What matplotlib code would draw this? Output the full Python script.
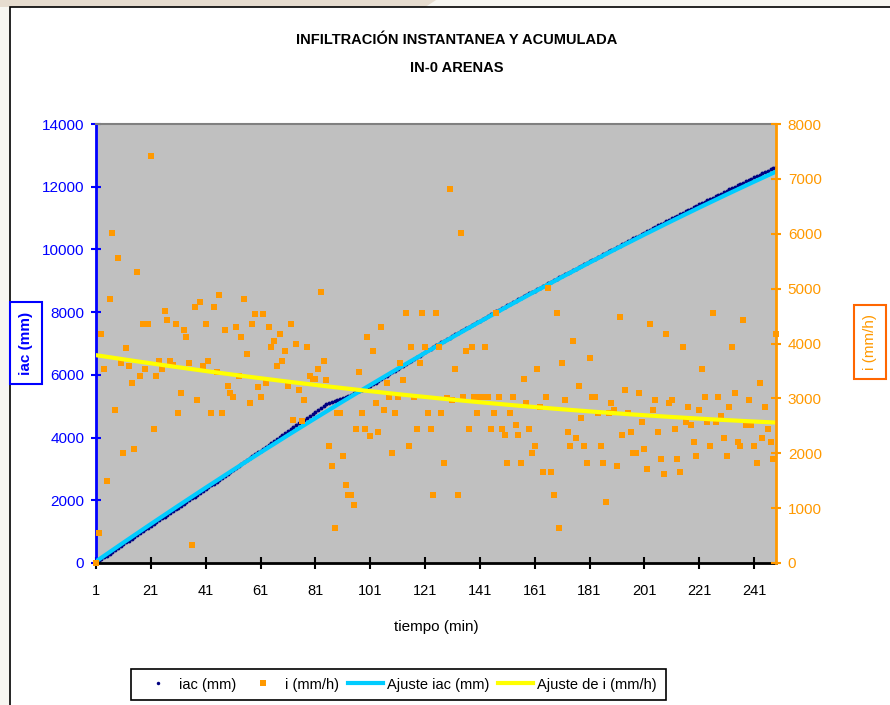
import numpy as np
import matplotlib
matplotlib.use('Agg')
import matplotlib.pyplot as plt
from matplotlib.patches import Rectangle, Polygon
from matplotlib.lines import Line2D

plt.rcParams['font.family'] = ['Liberation Sans', 'DejaVu Sans']

## Data
minutes = np.arange(1, 250)  # tiempo (min), one reading per minute

# infiltracion instantanea i (mm/h)
i_mmh = [0, 540, 4180, 3530, 1490, 4820, 6020, 2780, 5560, 3640,
         2010, 3920, 3590, 3280, 2070, 5300, 3400, 4360, 3530, 4360,
         7420, 2440, 3400, 3690, 3530, 4600, 4420, 3690, 3600, 4360,
         2730, 3090, 4240, 4110, 3650, 320, 4660, 2970, 4760, 3590,
         4360, 3690, 2730, 4670, 3480, 4890, 2730, 4240, 3220, 3100,
         3030, 4300, 3400, 4110, 4820, 3800, 2910, 4360, 4540, 3210,
         3030, 4540, 3280, 4300,
         3930, 4050, 3590, 4180, 3690, 3870, 3220, 4360, 2610, 3990,
         3160, 2590, 2970, 3930, 3400, 3350, 3350, 3530, 4940, 3690,
         3340, 2140, 1770, 630, 2730, 2730, 1950, 1420, 1240, 1240,
         1050, 2440, 3480, 2730, 2440, 4110, 2310, 3870, 2910, 2380,
         4300, 2790, 3280, 3030, 2010, 2730, 3030, 3650, 3340, 4550,
         2140, 3930, 3030, 2440, 3650, 4550, 3930, 2730, 2440, 1240,
         4550, 3930,
         2730, 1830, 3000, 6820, 2970, 3530, 1240, 6020, 3030, 3870,
         2440, 3930, 3030, 2730, 3030, 3030, 3930, 3030, 2440, 2730,
         4550, 3030, 2440, 2330, 1830, 2730, 3030, 2510, 2330, 1830,
         3350, 2910, 2440, 2010, 2140, 3530, 2850, 1650, 3030, 5010,
         1650, 1240, 4550, 630, 3650, 2970, 2380, 2140, 4050, 2270,
         3220, 2640, 2140, 1830, 3740, 3030, 3030, 2730, 2140, 1830,
         1120, 2730,
         2910, 2790, 1770, 4490, 2330, 3160, 2730, 2380, 2010, 2010,
         3100, 2570, 2080, 1710, 4360, 2790, 2970, 2380, 1890, 1620,
         4180, 2910, 2970, 2440, 1890, 1650, 3930, 2570, 2850, 2510,
         2200, 1950, 2790, 3530, 3030, 2570, 2140, 4550, 2570, 3030,
         2670, 2270, 1950, 2850, 3930, 3100, 2200, 2140, 4420, 2510,
         2970, 2510, 2140, 1830, 3280, 2270, 2850, 2440, 2200, 1890,
         4180]

# infiltracion acumulada iac (mm)
iac_mm = [0, 60, 119, 179, 238, 298, 357, 417, 476, 536,
          595, 655, 714, 774, 833, 893, 952, 1012, 1071, 1130,
          1188, 1246, 1304, 1362, 1420, 1479, 1537, 1595, 1653, 1711,
          1769, 1827, 1885, 1943, 2001, 2060, 2118, 2176, 2234, 2292,
          2350, 2412, 2474, 2535, 2597, 2659, 2721, 2783, 2844, 2906,
          2968, 3030, 3092, 3153, 3215, 3277, 3339, 3401, 3462, 3524,
          3586, 3648, 3710, 3771, 3833, 3895, 3957, 4019, 4080, 4142,
          4204, 4266, 4328, 4389, 4451, 4513, 4575, 4637, 4698, 4760,
          4822, 4884, 4946, 5007, 5070, 5104, 5137, 5171, 5204, 5238,
          5272, 5305, 5339, 5372, 5406, 5440, 5473, 5507, 5540, 5594,
          5648, 5701, 5755, 5809, 5863, 5917, 5971, 6024, 6078, 6132,
          6186, 6240, 6293, 6347, 6401, 6455, 6509, 6562, 6616, 6670,
          6724, 6778, 6832, 6885, 6939, 6993, 7043, 7092, 7142, 7191,
          7241, 7290, 7340, 7389, 7439, 7488, 7537, 7586, 7634, 7683,
          7732, 7780, 7829, 7878, 7927, 7975, 8023, 8071, 8119, 8167,
          8215, 8262, 8310, 8358, 8406, 8454, 8501, 8548, 8595, 8642,
          8689, 8737, 8784, 8831, 8878, 8925, 8971, 9018, 9064, 9110,
          9157, 9203, 9249, 9295, 9342, 9388, 9434, 9479, 9525, 9570,
          9616, 9661, 9707, 9752, 9798, 9843, 9889, 9935, 9982, 10028,
          10075, 10121, 10167, 10214, 10260, 10307, 10353, 10399, 10444, 10490,
          10536, 10581, 10627, 10673, 10718, 10764, 10809, 10854, 10899, 10944,
          10989, 11033, 11078, 11123, 11168, 11213, 11257, 11301, 11345, 11389,
          11433, 11477, 11521, 11565, 11609, 11653, 11697, 11740, 11783, 11826,
          11870, 11913, 11956, 11999, 12042, 12086, 12129, 12171, 12214, 12256,
          12298, 12341, 12383, 12426, 12468, 12510, 12553, 12595, 12638]

# polynomial trendlines (order 2), highest power first
fit_iac = [-0.04145, 60.49, -10.4]
fit_i = [0.01088, -7.67, 3794.6]

xticks = np.arange(1, 242, 20)

## Figure and background
fig = plt.figure(figsize=(8.9, 7.05), dpi=100)
fig.patch.set_facecolor('#f7f6f1')
fig.patches.append(Polygon([(0, 1), (0.49, 1), (0.478, 1 - 7/705), (0, 1 - 7/705)],
                           closed=True, transform=fig.transFigure,
                           facecolor='#e6dccf', edgecolor='none', zorder=-10))
fig.patches.append(Rectangle((10/890, -0.01), 1.0, 1 - 7/705 + 0.01,
                             transform=fig.transFigure, facecolor='white',
                             edgecolor='black', lw=1.2, zorder=-10))

ax = fig.add_axes([96/890, 1 - 563/705, 680/890, 439/705])
ax.set_facecolor('#c0c0c0')

## iac series (left axis)
ax.plot(minutes, iac_mm, 'o', color='#000080', ms=2.8, mew=0, zorder=2)
ax.plot(minutes, np.polyval(fit_iac, minutes), color='#00ccff', lw=3, zorder=3)

ax.set_xlim(1, 249)
ax.set_ylim(0, 14000)
ax.set_xticks(xticks)
ax.set_yticks(np.arange(0, 14001, 2000))

## i series (right axis)
ax2 = ax.twinx()
ax2.plot(minutes, i_mmh, 's', color='#ff9900', ms=4.8, mew=0, clip_on=False)
ax2.plot(minutes, np.polyval(fit_i, minutes), color='#ffff00', lw=3)
ax2.set_ylim(0, 8000)
ax2.set_yticks(np.arange(0, 8001, 1000))

## axis styling
ax.spines['left'].set_color('#0000ff')
ax.spines['left'].set_linewidth(2)
ax.spines['bottom'].set_linewidth(2)
ax.spines['right'].set_visible(False)
ax.spines['top'].set_color('#808080')
ax.spines['top'].set_linewidth(1.5)
for s in ['left', 'bottom', 'top']:
    ax2.spines[s].set_visible(False)
ax2.spines['right'].set_color('#ff9900')
ax2.spines['right'].set_linewidth(2)

ax.tick_params(axis='y', colors='#0000ff', direction='inout', length=7, width=1.5,
               labelsize=11, pad=5)
ax.tick_params(axis='x', colors='black', direction='inout', length=8, width=1.5,
               labelsize=10.5, pad=11)
ax2.tick_params(axis='y', colors='#ff9900', direction='inout', length=7, width=1.5,
                labelsize=11, pad=5)

## texts
fig.text(457/890, 1 - 40/705, 'INFILTRACIÓN INSTANTANEA Y ACUMULADA',
         ha='center', va='center', fontsize=10.5, fontweight='bold')
fig.text(457/890, 1 - 68/705, 'IN-0 ARENAS',
         ha='center', va='center', fontsize=10.5, fontweight='bold')
fig.text(436/890, 1 - 627/705, 'tiempo (min)', ha='center', va='center', fontsize=11)
fig.text(26/890, 1 - 343/705, 'iac (mm)', rotation=90, ha='center', va='center',
         color='#0000ff', fontweight='bold', fontsize=11,
         bbox=dict(boxstyle='square,pad=0.6', fc='white', ec='#0000ff', lw=1.5))
fig.text(870/890, 1 - 342/705, 'i (mm/h)', rotation=90, ha='center', va='center',
         color='#ff9900', fontsize=11,
         bbox=dict(boxstyle='square,pad=0.6', fc='white', ec='#ff6600', lw=1.5))

## legend
handles = [Line2D([], [], ls='none', marker='o', color='#000080', ms=2.5, mew=0),
           Line2D([], [], ls='none', marker='s', color='#ff9900', ms=5, mew=0),
           Line2D([], [], color='#00ccff', lw=3),
           Line2D([], [], color='#ffff00', lw=3)]
labels = ['iac (mm)', 'i (mm/h)', 'Ajuste iac (mm)', 'Ajuste de i (mm/h)']
leg = fig.legend(handles, labels, loc='center', bbox_to_anchor=(398.5/890, 1 - 684.5/705),
                 ncol=4, fontsize=10.5, fancybox=False, edgecolor='black', framealpha=1,
                 handlelength=2.4, columnspacing=0.6, handletextpad=0.3,
                 borderpad=0.6)
leg.get_frame().set_linewidth(1.2)

fig.savefig('out.png', dpi=100, facecolor=fig.get_facecolor())
